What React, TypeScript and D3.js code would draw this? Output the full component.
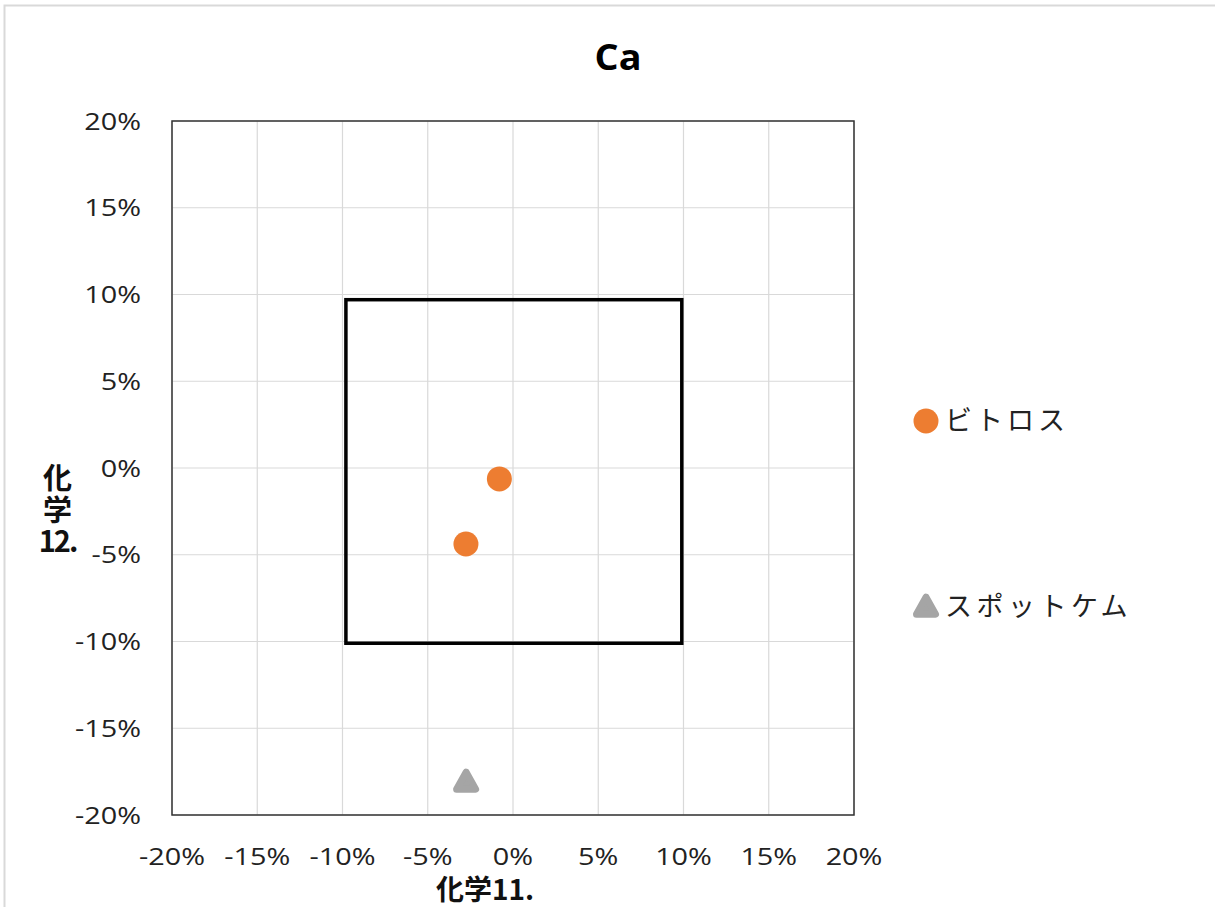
import React from "react";
import * as d3 from "d3";

const W = 1215;
const H = 907;

const title = "Ca";
const xAxisTitle = "化学11.";
const yAxisTitleLines = ["化", "学", "12."];

const tickValues = [-0.2, -0.15, -0.1, -0.05, 0, 0.05, 0.1, 0.15, 0.2];
const tickLabels = ["-20%", "-15%", "-10%", "-5%", "0%", "5%", "10%", "15%", "20%"];

const seriesNames = ["ビトロス", "スポットケム"];
const bitrosX = [-0.008, -0.0276];
const bitrosY = [-0.0063, -0.0438];
const spotchemX = [-0.0275];
const spotchemY = [-0.181];

const boxX = [-0.098, 0.099];
const boxY = [-0.101, 0.097];

const colors = ["#ED7D31", "#A5A5A5"];

const FONT = "'Open Sans', 'Noto Sans CJK JP', sans-serif";
const JFONT = "'Noto Sans CJK JP', 'Open Sans', sans-serif";

function triPath(cx: number, cy: number, s: number) {
  const h = s * 0.9;
  return `M${cx},${cy - h * 0.58}L${cx + s / 2},${cy + h * 0.42}L${cx - s / 2},${cy + h * 0.42}Z`;
}

type STextProps = {
  x: number;
  y: number;
  sx?: number;
  anchor?: "start" | "middle" | "end";
  children: React.ReactNode;
  [k: string]: any;
};

function SText({ x, y, sx = 1, anchor = "start", children, ...rest }: STextProps) {
  return (
    <g transform={`translate(${x},${y}) scale(${sx},1)`}>
      <text x={0} y={0} textAnchor={anchor} {...rest}>
        {children}
      </text>
    </g>
  );
}

export default function App() {
  const x = d3.scaleLinear().domain([-0.2, 0.2]).range([172, 854]);
  const y = d3.scaleLinear().domain([-0.2, 0.2]).range([815, 121]);
  const TS = 1.2;

  return (
    <svg
      width={W}
      height={H}
      style={{ position: "absolute", left: 0, top: 0, background: "#fff" }}
    >
      <rect x={4.5} y={5.5} width={1400} height={1200} fill="none" stroke="#D9D9D9" strokeWidth={2} />
      <SText x={618} y={70} sx={1.08} anchor="middle" fontFamily={FONT} fontWeight="bold" fontSize={35} fill="#000">
        {title}
      </SText>

      {tickValues.map((v, i) => (
        <g key={"gx" + i}>
          <line x1={x(v)} x2={x(v)} y1={y(0.2)} y2={y(-0.2)} stroke="#D9D9D9" strokeWidth={1.2} />
          <line x1={x(-0.2)} x2={x(0.2)} y1={y(v)} y2={y(v)} stroke="#D9D9D9" strokeWidth={1.2} />
        </g>
      ))}
      <rect
        x={x(-0.2)}
        y={y(0.2)}
        width={x(0.2) - x(-0.2)}
        height={y(-0.2) - y(0.2)}
        fill="none"
        stroke="#333"
        strokeWidth={1.5}
      />

      {tickValues.map((v, i) => (
        <SText key={"yl" + i} x={141} y={y(v) + 8.5} sx={TS} anchor="end" fontFamily={FONT} fontSize={24} fill="#222">
          {tickLabels[i]}
        </SText>
      ))}
      {tickValues.map((v, i) => (
        <SText key={"xl" + i} x={x(v)} y={865} sx={TS} anchor="middle" fontFamily={FONT} fontSize={24} fill="#222">
          {tickLabels[i]}
        </SText>
      ))}

      <rect
        x={x(boxX[0])}
        y={y(boxY[1])}
        width={x(boxX[1]) - x(boxX[0])}
        height={y(boxY[0]) - y(boxY[1])}
        fill="none"
        stroke="#000"
        strokeWidth={3.5}
      />

      {bitrosX.map((v, i) => (
        <circle key={"b" + i} cx={x(v)} cy={y(bitrosY[i])} r={12.5} fill={colors[0]} />
      ))}
      {spotchemX.map((v, i) => (
        <path
          key={"s" + i}
          d={triPath(x(v), y(spotchemY[i]), 19)}
          fill={colors[1]}
          stroke={colors[1]}
          strokeWidth={7}
          strokeLinejoin="round"
        />
      ))}

      <text x={485} y={900} textAnchor="middle" fontFamily={JFONT} fontWeight="bold" fontSize={28} fill="#111">
        {xAxisTitle}
      </text>
      <text textAnchor="middle" fontFamily={JFONT} fontWeight="bold" fontSize={29} fill="#111">
        {yAxisTitleLines.map((t, i) => (
          <tspan key={"yt" + i} x={57.5} y={489 + i * 31.5} letterSpacing={i === 2 ? -2 : 0}>
            {t}
          </tspan>
        ))}
      </text>

      <circle cx={926} cy={421} r={12.5} fill={colors[0]} />
      <text x={945} y={430} fontFamily={JFONT} fontSize={27} letterSpacing={4} fill="#222">
        {seriesNames[0]}
      </text>
      <path d={triPath(926, 607, 19)} fill={colors[1]} stroke={colors[1]} strokeWidth={7} strokeLinejoin="round" />
      <text x={945} y={616} fontFamily={JFONT} fontSize={27} letterSpacing={4.5} fill="#222">
        {seriesNames[1]}
      </text>
    </svg>
  );
}
